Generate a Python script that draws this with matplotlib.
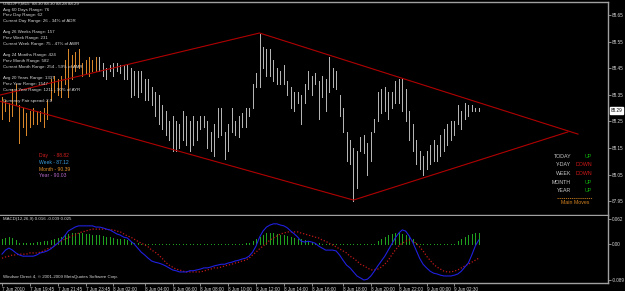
import matplotlib
matplotlib.use('Agg')
import matplotlib.pyplot as plt

# ---- chart data (USDJPY M15) ----
bar_high = [88.34, 88.33, 88.32, 88.37, 88.39, 88.31, 88.30, 88.28, 88.29, 88.30,
            88.29, 88.29, 88.30, 88.33, 88.41, 88.42, 88.41, 88.42, 88.48, 88.52,
            88.50, 88.51, 88.52, 88.47, 88.48, 88.49, 88.48, 88.49, 88.49, 88.47,
            88.45, 88.46, 88.47, 88.47, 88.46, 88.46, 88.46, 88.45, 88.44, 88.44,
            88.44, 88.41, 88.41, 88.38, 88.36, 88.35, 88.31, 88.29, 88.25, 88.27,
            88.25, 88.24, 88.29, 88.27, 88.25, 88.27, 88.25, 88.27, 88.27, 88.25,
            88.21, 88.24, 88.30, 88.30, 88.21, 88.24, 88.30, 88.25, 88.27, 88.28,
            88.30, 88.30, 88.39, 88.43, 88.58, 88.53, 88.52, 88.52, 88.48, 88.45,
            88.44, 88.46, 88.40, 88.38, 88.36, 88.36, 88.35, 88.39, 88.44, 88.42,
            88.43, 88.40, 88.42, 88.41, 88.49, 88.45, 88.44, 88.35, 88.30, 88.21,
            88.18, 88.15, 88.14, 88.19, 88.20, 88.17, 88.21, 88.26, 88.36, 88.37,
            88.38, 88.36, 88.36, 88.40, 88.41, 88.41, 88.37, 88.29, 88.24, 88.18,
            88.14, 88.12, 88.14, 88.16, 88.18, 88.16, 88.20, 88.22, 88.24, 88.25,
            88.25, 88.31, 88.29, 88.32, 88.31, 88.31, 88.30, 88.30]
bar_low = [88.26, 88.29, 88.25, 88.27, 88.31, 88.17, 88.23, 88.20, 88.23, 88.24,
           88.24, 88.25, 88.23, 88.26, 88.33, 88.36, 88.35, 88.34, 88.39, 88.34,
           88.41, 88.44, 88.45, 88.42, 88.43, 88.42, 88.44, 88.44, 88.44, 88.42,
           88.41, 88.44, 88.42, 88.44, 88.43, 88.41, 88.41, 88.34, 88.35, 88.34,
           88.36, 88.33, 88.33, 88.31, 88.27, 88.24, 88.22, 88.20, 88.18, 88.14,
           88.14, 88.15, 88.18, 88.16, 88.14, 88.16, 88.18, 88.22, 88.23, 88.15,
           88.14, 88.12, 88.19, 88.20, 88.11, 88.14, 88.21, 88.20, 88.19, 88.23,
           88.23, 88.27, 88.30, 88.38, 88.38, 88.45, 88.42, 88.42, 88.40, 88.39,
           88.39, 88.39, 88.35, 88.30, 88.29, 88.32, 88.24, 88.32, 88.37, 88.35,
           88.39, 88.26, 88.34, 88.29, 88.36, 88.38, 88.37, 88.27, 88.21, 88.10,
           88.09, 87.95, 88.00, 88.14, 88.13, 88.05, 88.10, 88.21, 88.25, 88.28,
           88.29, 88.26, 88.30, 88.32, 88.32, 88.29, 88.25, 88.18, 88.14, 88.09,
           88.07, 88.05, 88.07, 88.09, 88.10, 88.10, 88.12, 88.14, 88.16, 88.18,
           88.20, 88.24, 88.22, 88.26, 88.27, 88.29, 88.29, 88.29]
orange_count = 28
last_price = 88.29

macd_main = [-0.025, -0.015, -0.010, -0.015, -0.022, -0.027, -0.030, -0.030, -0.030, -0.030,
             -0.027, -0.022, -0.020, -0.017, -0.012, -0.005, 0.002, 0.010, 0.020, 0.032,
             0.037, 0.042, 0.045, 0.045, 0.045, 0.045, 0.045, 0.042, 0.042, 0.040,
             0.037, 0.035, 0.030, 0.025, 0.022, 0.017, 0.015, 0.007, 0.000, -0.010,
             -0.020, -0.027, -0.035, -0.042, -0.045, -0.047, -0.050, -0.054, -0.059, -0.064,
             -0.066, -0.069, -0.069, -0.069, -0.066, -0.066, -0.064, -0.062, -0.059, -0.059,
             -0.057, -0.054, -0.052, -0.050, -0.050, -0.047, -0.045, -0.042, -0.040, -0.037,
             -0.035, -0.030, -0.020, -0.005, 0.017, 0.032, 0.042, 0.047, 0.050, 0.050,
             0.047, 0.045, 0.040, 0.032, 0.025, 0.017, 0.007, 0.005, 0.007, 0.005,
             0.002, -0.005, -0.010, -0.015, -0.015, -0.015, -0.017, -0.027, -0.040, -0.052,
             -0.059, -0.069, -0.079, -0.084, -0.089, -0.087, -0.079, -0.067, -0.054, -0.042,
             -0.030, -0.015, 0.000, 0.015, 0.027, 0.035, 0.032, 0.020, 0.005, -0.015,
             -0.035, -0.050, -0.059, -0.067, -0.072, -0.074, -0.077, -0.079, -0.079, -0.079,
             -0.077, -0.074, -0.067, -0.057, -0.047, -0.027, -0.005, 0.010]
macd_signal = [-0.035, -0.032, -0.030, -0.027, -0.027, -0.025, -0.025, -0.025, -0.022, -0.022,
               -0.022, -0.020, -0.017, -0.012, -0.010, -0.005, 0.002, 0.007, 0.012, 0.015,
               0.020, 0.022, 0.027, 0.030, 0.032, 0.035, 0.037, 0.037, 0.037, 0.037,
               0.037, 0.035, 0.035, 0.032, 0.030, 0.025, 0.020, 0.017, 0.012, 0.007,
               0.002, -0.002, -0.007, -0.015, -0.020, -0.027, -0.035, -0.045, -0.052, -0.057,
               -0.062, -0.064, -0.067, -0.069, -0.069, -0.069, -0.069, -0.069, -0.067, -0.064,
               -0.062, -0.059, -0.059, -0.057, -0.054, -0.052, -0.050, -0.047, -0.045, -0.042,
               -0.040, -0.035, -0.027, -0.020, -0.012, -0.005, 0.002, 0.010, 0.015, 0.020,
               0.025, 0.027, 0.030, 0.030, 0.030, 0.030, 0.027, 0.025, 0.022, 0.020,
               0.017, 0.015, 0.010, 0.007, 0.002, -0.002, -0.007, -0.012, -0.017, -0.022,
               -0.030, -0.035, -0.042, -0.050, -0.054, -0.059, -0.064, -0.064, -0.062, -0.057,
               -0.050, -0.040, -0.027, -0.015, -0.005, 0.002, 0.007, 0.010, 0.007, 0.002,
               -0.007, -0.017, -0.030, -0.040, -0.050, -0.057, -0.062, -0.067, -0.069, -0.069,
               -0.067, -0.064, -0.059, -0.054, -0.050, -0.045, -0.040, -0.035]
macd_hist = [0.015, 0.018, 0.020, 0.018, 0.012, 0.005, 0.004, 0.004, 0.005, 0.006,
             0.007, 0.008, 0.009, 0.010, 0.012, 0.015, 0.018, 0.020, 0.024, 0.028,
             0.030, 0.030, 0.030, 0.030, 0.028, 0.027, 0.026, 0.025, 0.024, 0.022,
             0.020, 0.019, 0.018, 0.016, 0.015, 0.014, 0.012, 0.008, 0.006, 0.004,
             0.003, 0.002, 0.002, 0.002, 0.002, 0.002, 0.002, 0.002, 0.002, 0.002,
             0.002, 0.002, 0.002, 0.002, 0.002, 0.002, 0.002, 0.002, 0.002, 0.002,
             0.002, 0.002, 0.002, 0.002, 0.002, 0.002, 0.002, 0.002, 0.002, 0.002,
             0.004, 0.006, 0.010, 0.015, 0.020, 0.025, 0.030, 0.030, 0.030, 0.028,
             0.026, 0.024, 0.022, 0.020, 0.018, 0.016, 0.014, 0.012, 0.010, 0.008,
             0.006, 0.004, 0.003, 0.002, 0.002, 0.002, 0.002, 0.002, 0.002, 0.002,
             0.002, 0.002, 0.002, 0.002, 0.002, 0.002, 0.002, 0.002, 0.010, 0.015,
             0.020, 0.025, 0.028, 0.030, 0.030, 0.028, 0.024, 0.020, 0.015, 0.005,
             0.002, 0.002, 0.002, 0.002, 0.002, 0.002, 0.002, 0.002, 0.002, 0.002,
             0.002, 0.010, 0.015, 0.020, 0.025, 0.028, 0.030, 0.030]

price_ticks = [87.95, 88.05, 88.15, 88.25, 88.35, 88.45, 88.55, 88.65]
macd_ticks = [-0.089, 0.0, 0.062]
macd_tick_labels = ['-0.089', '0.00', '0.062']
time_ticks = [0, 8, 16, 24, 32, 41, 49, 57, 65, 73, 81, 89, 98, 106, 114, 122, 130]
time_labels = ['7 Jun 2010', '7 Jun 19:45', '7 Jun 21:45', '7 Jun 23:45', '8 Jun 02:00',
               '8 Jun 04:00', '8 Jun 06:00', '8 Jun 08:00', '8 Jun 10:00', '8 Jun 12:00',
               '8 Jun 14:00', '8 Jun 16:00', '8 Jun 18:00', '8 Jun 20:00', '8 Jun 22:00',
               '9 Jun 00:00', '9 Jun 02:30']

# diamond (channel) corner points: bar index, price
left_pt = (-4.0, 88.338)
top_pt = (74, 88.582)
bottom_pt = (101, 87.954)
upper_end = (165.5, 88.202)
lower_end = (162.6, 88.210)

info_lines = ['USDJPY,M15  88.30 88.30 88.28 88.29',
              'Avg 60 Days Range: 76', 'Prev Day Range: 62',
              'Current Day Range: 26 - 34% of ADR', '',
              'Avg 26 Weeks Range: 157', 'Prev Week Range: 231',
              'Current Week Range: 75 - 47% of AWR', '',
              'Avg 24 Months Range: 424', 'Prev Month Range: 582',
              'Current Month Range: 254 - 59% of AMR', '',
              'Avg 20 Years Range: 1337', 'Prev Year Range: 1547',
              'Current Year Range: 1211 - 90% of AYR', '',
              'Currency Pair spread: 2.0']
level_names = ['Day    - 88.82', 'Week - 87.12', 'Month - 90.39', 'Year - 90.03']
level_colors = ['#d42020', '#3a9ee0', '#e0902a', '#b868c8']
move_names = ['TODAY', 'Y-DAY', 'WEEK', 'MONTH', 'YEAR']
move_dirs = ['UP', 'DOWN', 'DOWN', 'UP', 'UP']

# ---- drawing ----
W, H = 625, 291
SP = 3.48   # pixels per bar
X0 = 2      # pixel of first bar
FONT = 'Liberation Sans'
AXC = '#a0a0a0'
TXT = '#d8d8d8'
PX = 0.72   # one pixel in points


def fx(x):
    return x / W


def fy(y):
    return 1 - y / H


fig = plt.figure(figsize=(W / 100, H / 100), dpi=100, facecolor='black')
ax = fig.add_axes([0, fy(215), fx(608), (215 - 2) / H])
mx = fig.add_axes([0, fy(283), fx(608), (283 - 216) / H])
xlim = (-X0 / SP, (608 - X0) / SP)

for a in (ax, mx):
    a.set_facecolor('black')
    a.set_xlim(*xlim)
    a.spines['left'].set_visible(False)
    for s in ('top', 'right', 'bottom'):
        a.spines[s].set_color(AXC)
        a.spines[s].set_linewidth(1)
    a.yaxis.tick_right()
    a.tick_params(axis='y', colors=AXC, length=2, width=0.6, pad=1,
                  labelsize=3.3, labelcolor=TXT)
mx.spines['top'].set_visible(False)

# price bars
idx = list(range(len(bar_high)))
cols = ['#d8862a' if i < orange_count else '#b4b4b4' for i in idx]
ax.vlines(idx, bar_low, bar_high, colors=cols, lw=PX, antialiased=False)

# diamond
ax.plot([left_pt[0], top_pt[0], upper_end[0]], [left_pt[1], top_pt[1], upper_end[1]],
        color='#b00000', lw=0.8)
ax.plot([left_pt[0], bottom_pt[0], lower_end[0]], [left_pt[1], bottom_pt[1], lower_end[1]],
        color='#b00000', lw=0.8)

ax.set_ylim(88.706 - 215 * 0.003759, 88.706 - 2 * 0.003759)
ax.set_yticks(price_ticks)
ax.set_yticklabels(['%.2f' % p for p in price_ticks], fontfamily=FONT)
ax.set_xticks([])
ax.text(1.004, last_price, '%.2f' % last_price, transform=ax.get_yaxis_transform(),
        fontsize=3.3, fontfamily=FONT, color='black', va='center', ha='left',
        bbox=dict(boxstyle='square,pad=0.15', fc='white', ec='white'))

# MACD panel
mx.set_ylim(-0.0964, 0.0694)
mx.vlines(idx, 0, macd_hist, colors='#1fa01f', lw=PX, linestyles=(0, (1, 1)),
          antialiased=False)
mx.plot(idx, macd_signal, color='#c01818', lw=0.9, ls=(0, (1, 1.5)))
mx.plot(idx, macd_main, color='#2020e0', lw=0.8)
mx.set_yticks(macd_ticks)
mx.set_yticklabels(macd_tick_labels, fontfamily=FONT)
mx.set_xticks(time_ticks)
mx.set_xticklabels(time_labels, fontfamily=FONT, ha='left')
mx.tick_params(axis='x', colors=AXC, length=2, width=0.6, pad=1,
               labelsize=3.3, labelcolor=TXT)

# text overlays
for k, line in enumerate(info_lines):
    fig.text(fx(3), fy(4 + k * 5.7), line, fontsize=3.2, fontfamily=FONT,
             color=TXT, va='center', ha='left')
for k, (name, c) in enumerate(zip(level_names, level_colors)):
    fig.text(fx(39), fy(156 + k * 6.6), name, fontsize=3.6, fontfamily=FONT,
             color=c, va='center', ha='left')
for k, (name, d) in enumerate(zip(move_names, move_dirs)):
    yy = fy(156 + k * 8.7)
    fig.text(fx(571), yy, name, fontsize=3.8, fontfamily=FONT, color='#c8c8c8',
             va='center', ha='right')
    fig.text(fx(592), yy, d, fontsize=3.8, fontfamily=FONT,
             color='#10b010' if d == 'UP' else '#d01818', va='center', ha='right')
fig.add_artist(plt.Line2D([fx(557), fx(592)], [fy(198), fy(198)], color='#d08020',
                          lw=0.6, ls=(0, (1.5, 1))))
fig.text(fx(575), fy(203), 'Main Moves', fontsize=3.8, fontfamily=FONT,
         color='#d08020', va='center', ha='center')
fig.text(fx(3), fy(219), 'MACD(12,26,9) 0.016 -0.009 0.025', fontsize=3.2,
         fontfamily=FONT, color=TXT, va='center', ha='left')
fig.text(fx(3), fy(277), 'Windsor Direct 4, \u00a9 2001-2009 MetaQuotes Software Corp.',
         fontsize=3.2, fontfamily=FONT, color=TXT, va='center', ha='left')

fig.savefig('out.png', dpi=100, facecolor='black')
